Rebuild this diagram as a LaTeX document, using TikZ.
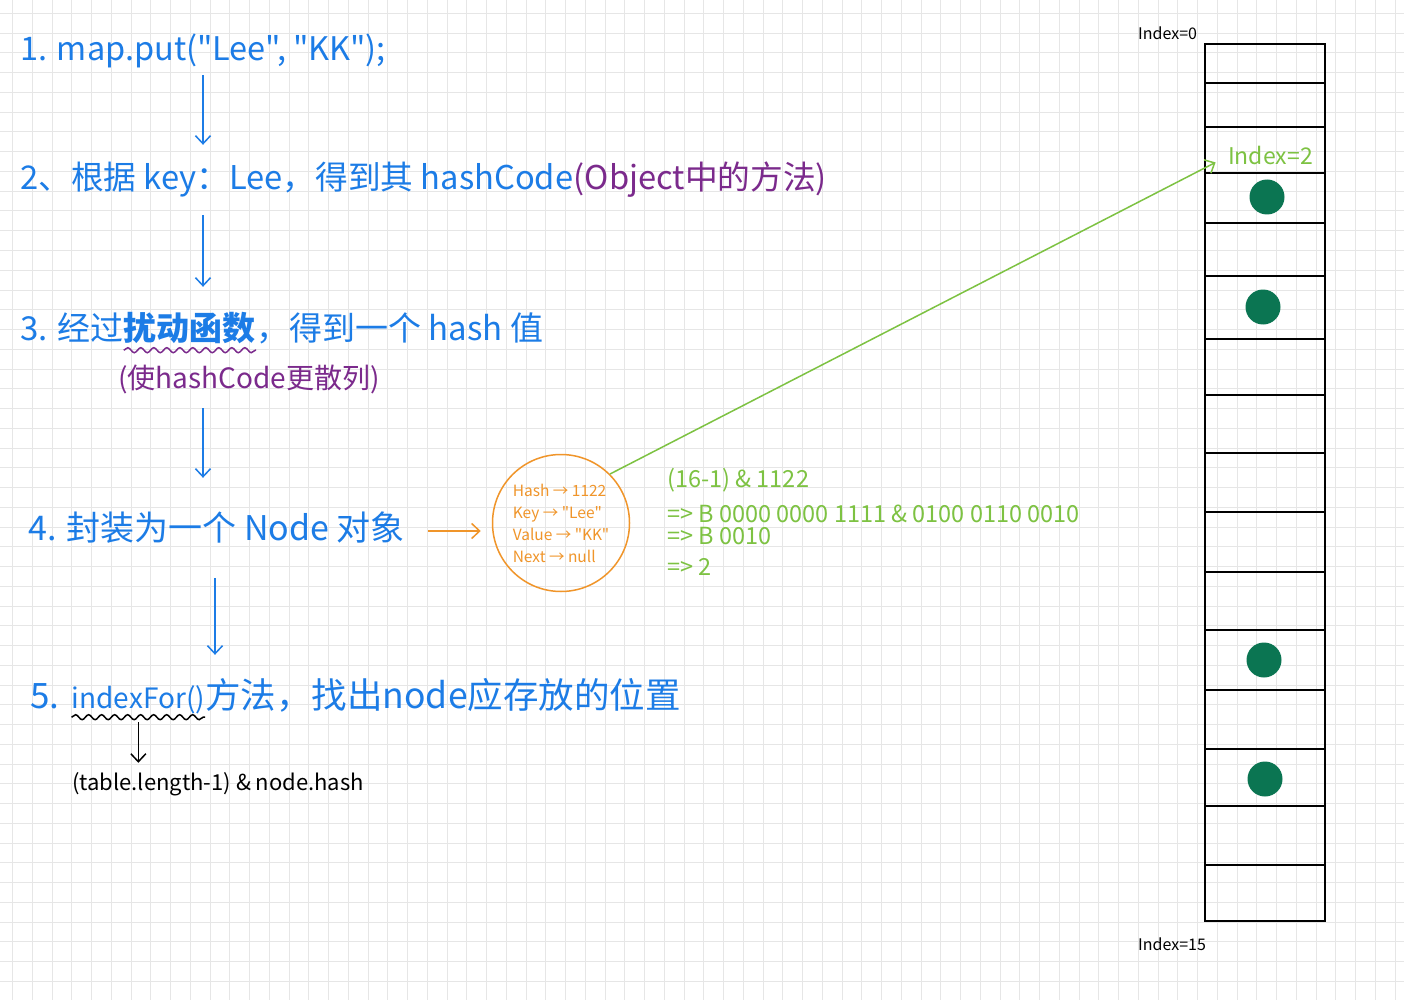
\documentclass[tikz,border=0pt]{standalone}
\usepackage{fontspec}
\setmainfont{Noto Sans CJK SC}[Ligatures=TeXOff]
\usepackage{xcolor}
\usepackage{tikz}
\usetikzlibrary{arrows.meta,decorations.pathmorphing}

\definecolor{stepblue}{HTML}{1C7CE6}
\definecolor{notepurple}{HTML}{7B2A8C}
\definecolor{calcgreen}{HTML}{7DC242}
\definecolor{fieldorange}{HTML}{F0952A}
\definecolor{slotgreen}{HTML}{0B7552}
\definecolor{gridgray}{HTML}{E6E6E6}

\begin{document}
\begin{tikzpicture}[x=1pt, y=-1pt,
        >={Straight Barb[length=8pt, width=15pt]},
        gridline/.style={gridgray, line width=1pt},
        steptext/.style={anchor=base west, inner sep=0pt, text height=24pt, text depth=6pt,
            text=stepblue, font=\fontsize{33}{36}\selectfont},
        notetext/.style={anchor=base west, inner sep=0pt, text height=20pt, text depth=5pt,
            text=notepurple, font=\fontsize{28}{30}\selectfont},
        calctext/.style={anchor=base west, inner sep=0pt, text=calcgreen, font=\fontsize{23.5}{26}\selectfont},
        formulatext/.style={anchor=base west, inner sep=0pt, text height=16pt, text depth=5pt,
            font=\fontsize{22}{24}\selectfont},
        indexlabel/.style={anchor=base west, inner sep=0pt, font=\fontsize{16}{18}\selectfont},
        fieldcircle/.style={circle, draw=fieldorange, line width=1.5pt, minimum size=137pt, inner sep=0pt,
            align=left, text=fieldorange, font=\fontsize{15.5}{22}\selectfont},
        flowarrow/.style={->, stepblue, line width=1.5pt},
        wavy/.style={decorate, decoration={snake, amplitude=2.5pt, segment length=13pt}, line width=1.5pt},
        tableline/.style={line width=2pt}]

        % Page and squared paper
        \useasboundingbox (0,0) rectangle (1404,1000);
        \fill[white] (0,0) rectangle (1404,1000);
        \foreach \gx in {0,...,70}
            \draw[gridline] ({12.5+19.75*\gx},0) -- ({12.5+19.75*\gx},1000);
        \foreach \gy in {0,...,49}
            \draw[gridline] (0,{13.5+19.75*\gy}) -- (1404,{13.5+19.75*\gy});

        % Columns of the step arrows
        \coordinate (colA) at (203,0);
        \coordinate (colB) at (215,0);

        % Step 1
        \node[steptext, font=\fontsize{32.5}{36}\selectfont] (s1) at (20,61) {1. map.put("Lee", "KK");};

        % Step 2
        \node[steptext, font=\fontsize{32.7}{36}\selectfont] (s2) at (20,190) {2、根据 key：Lee，得到其 hashCode};
        \node[steptext, font=\fontsize{32.7}{36}\selectfont, text=notepurple] (s2note) at (s2.base east) {(Object中的方法)};

        % Step 3, with the wavy mark under the key words
        \node[steptext] (s3) at (20,340) {3. 经过};
        \node[steptext] (s3key) at (s3.base east) {\bfseries 扰动函数};
        \node[steptext] (s3rest) at (s3key.base east) {，得到一个 hash 值};
        \draw[wavy, notepurple] ([yshift=-4pt]s3key.south west) -- ([yshift=-4pt]s3key.south east);
        \node[notetext] (s3note) at (118,388) {(使hashCode更散列)};

        % Step 4 and the Node object
        \node[steptext, font=\fontsize{34}{36}\selectfont] (s4) at (28,540) {4. 封装为一个 Node 对象};
        \node[fieldcircle] (hashnode) at (561,523) {Hash → 1122\\Key → "Lee"\\Value → "KK"\\Next → null};
        \draw[->, fieldorange, line width=1.5pt, shorten <=23pt, shorten >=11pt] (s4.east) -- (s4.east -| hashnode.west);

        % Working out the index
        \node[calctext] (g1) at (667,487) {(16-1) \& 1122};
        \node[calctext] (g2) at (667,522) {=> B 0000 0000 1111 \& 0100 0110 0010};
        \node[calctext] (g3) at (667,544) {=> B 0010};
        \node[calctext] (g4) at (667,575) {=> 2};

        % Step 5
        \node[steptext, font=\fontsize{35}{36}\selectfont] (s5) at (30,708) {5.\hspace*{12pt}};
        \node[steptext, font=\fontsize{28}{36}\selectfont] (s5fn) at (s5.base east) {indexFor()};
        \node[steptext, font=\fontsize{35.5}{36}\selectfont] (s5rest) at (s5fn.base east) {方法，找出node应存放的位置};
        \draw[wavy, black] ([yshift=-3pt]s5fn.south west) -- ([yshift=-3pt]s5fn.south east);
        \node[formulatext] (t5) at (72,790) {(table.length-1) \& node.hash};
        \draw[->, line width=1.5pt, shorten <=8pt, shorten >=11pt] (s5fn.south) -- (s5fn.south |- t5.north);

        % Arrows between the steps
        \draw[flowarrow, shorten <=8pt, shorten >=21pt] (s1.south -| colA) -- (s2.north -| colA);
        \draw[flowarrow, shorten <=19pt, shorten >=29pt] (s2.south -| colA) -- (s3.north -| colA);
        \draw[flowarrow, shorten <=15pt, shorten >=38pt] (s3note.south -| colA) -- (s4.north -| colA);
        \draw[flowarrow, shorten <=32pt, shorten >=29pt] (s4.south -| colB) -- (s5.north -| colB);

        % The table with 16 slots
        \draw[tableline] (1205,44) rectangle (1325,921);
        \foreach \ry in {83,127,173,223,276,339,395,453,512,572,630,690,749,806,865}
            \draw[tableline] (1205,\ry) -- (1325,\ry);
        \fill[slotgreen] (1267,197) circle (17.5);
        \fill[slotgreen] (1263,307) circle (17.5);
        \fill[slotgreen] (1264,660) circle (17.5);
        \fill[slotgreen] (1265,779) circle (17.5);
        \node[indexlabel] (idx0) at (1138,40) {Index=0};
        \node[indexlabel] (idx15) at (1138,950) {Index=15};
        \node[indexlabel, text=calcgreen, font=\fontsize{23}{26}\selectfont] (idx2) at (1228,165) {Index=2};

        % Node goes to slot 2
        \draw[->, calcgreen, line width=1.5pt, shorten >=14pt] (hashnode.north east) -- (idx2.west);

\end{tikzpicture}
\end{document}
